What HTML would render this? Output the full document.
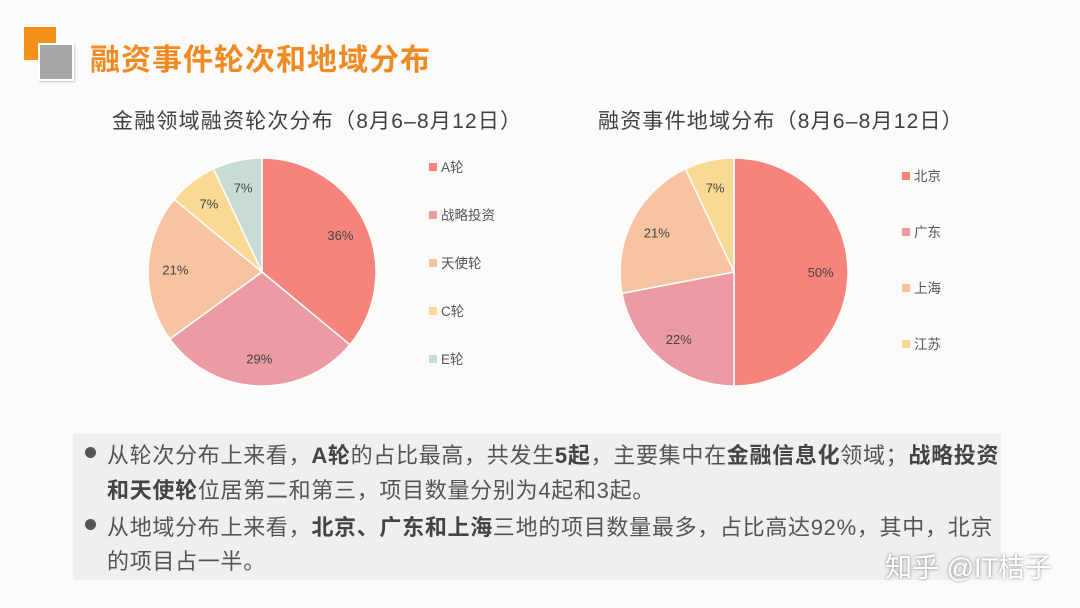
<!DOCTYPE html>
<html><head><meta charset="utf-8">
<style>
body{margin:0;width:1080px;height:608px;overflow:hidden;background:#fdfbfa;font-family:"Liberation Sans","Noto Sans CJK SC",sans-serif;position:relative}
.abs{position:absolute}
.title{left:90px;top:35px;font-size:30px;font-weight:bold;color:#f08a22;letter-spacing:1px}
.sub{font-size:21px;color:#404040;top:105px;letter-spacing:1.2px}
.box{left:73px;top:434px;width:928px;height:146px;background:#efefef}
.line{position:absolute;left:34px;font-size:22px;color:#555;white-space:nowrap;letter-spacing:0.7px}
.line b{color:#444}
.dot{position:absolute;left:12px;width:11px;height:11px;border-radius:50%;background:#555}
.wm{right:28px;top:546px;font-size:27px;color:#fff;text-shadow:0 0 3px rgba(0,0,0,.5)}
</style></head><body>
<div class="abs" style="left:24px;top:27px;width:32px;height:33px;background:#f39019"></div>
<div class="abs" style="left:38px;top:43px;width:32px;height:34px;background:#a6a6a6;border:2px solid #fff;box-shadow:1px 1px 2px rgba(0,0,0,.2)"></div>
<div class="abs title">融资事件轮次和地域分布</div>
<div class="abs sub" style="left:112px">金融领域融资轮次分布（8月6–8月12日）</div>
<div class="abs sub" style="left:598px">融资事件地域分布（8月6–8月12日）</div>
<svg class="abs" style="left:0;top:0" width="1080" height="430" id="charts"></svg>
<div class="abs box">
<div class="dot" style="top:13px"></div>
<div class="line" style="top:4px">从轮次分布上来看，<b>A轮</b>的占比最高，共发生<b>5起</b>，主要集中在<b>金融信息化</b>领域；<b>战略投资</b></div>
<div class="line" style="top:39px"><b>和天使轮</b>位居第二和第三，项目数量分别为4起和3起。</div>
<div class="dot" style="top:85px"></div>
<div class="line" style="top:76px">从地域分布上来看，<b>北京、广东和上海</b>三地的项目数量最多，占比高达92%，其中，北京</div>
<div class="line" style="top:110px">的项目占一半。</div>
</div>
<div class="abs wm">知乎 @IT桔子</div>
<script>
const roundCats=["A轮","战略投资","天使轮","C轮","E轮"];
const roundVals=[36,29,21,7,7];
const regionCats=["北京","广东","上海","江苏"];
const regionVals=[50,22,21,7];
const colors=["#f7837d","#eb9ba1","#f8c3a1","#f9d993","#c8dcd5"];
const NS="http://www.w3.org/2000/svg";
const svg=document.getElementById('charts');
function mk(t,a){const e=document.createElementNS(NS,t);for(const k in a)e.setAttribute(k,a[k]);svg.appendChild(e);return e;}
function pie(cats,vals,cx,cy,r,lx,ly0,lstep,name){
  const tot=vals.reduce((a,b)=>a+b,0);let acc=0;
  vals.forEach((v,i)=>{
    const a0=acc/tot*2*Math.PI;acc+=v;const a1=acc/tot*2*Math.PI;
    const x0=cx+r*Math.sin(a0),y0=cy-r*Math.cos(a0),x1=cx+r*Math.sin(a1),y1=cy-r*Math.cos(a1);
    const p=mk('path',{d:`M${cx},${cy}L${x0},${y0}A${r},${r} 0 ${a1-a0>Math.PI?1:0} 1 ${x1},${y1}Z`,fill:colors[i],stroke:'#fff','stroke-width':1.5});
    
    
    const am=(a0+a1)/2,rr=r*0.76;
    const t=mk('text',{x:cx+rr*Math.sin(am),y:cy-rr*Math.cos(am)+5,'text-anchor':'middle','font-size':13,fill:'#444'});
    t.textContent=Math.round(v/tot*100)+'%';
    
    
    const sq=mk('rect',{x:lx,y:ly0+i*lstep-4,width:8,height:8,fill:colors[i]});
    
    
    const lt=mk('text',{x:lx+12,y:ly0+i*lstep+5,'font-size':13.5,fill:'#555'});
    lt.textContent=cats[i];
    
    
  });
}
pie(roundCats,roundVals,262,272,114,429,167,48,'rounds');
pie(regionCats,regionVals,734,272,114,902,176,56,'regions');
</script>
</body></html>
